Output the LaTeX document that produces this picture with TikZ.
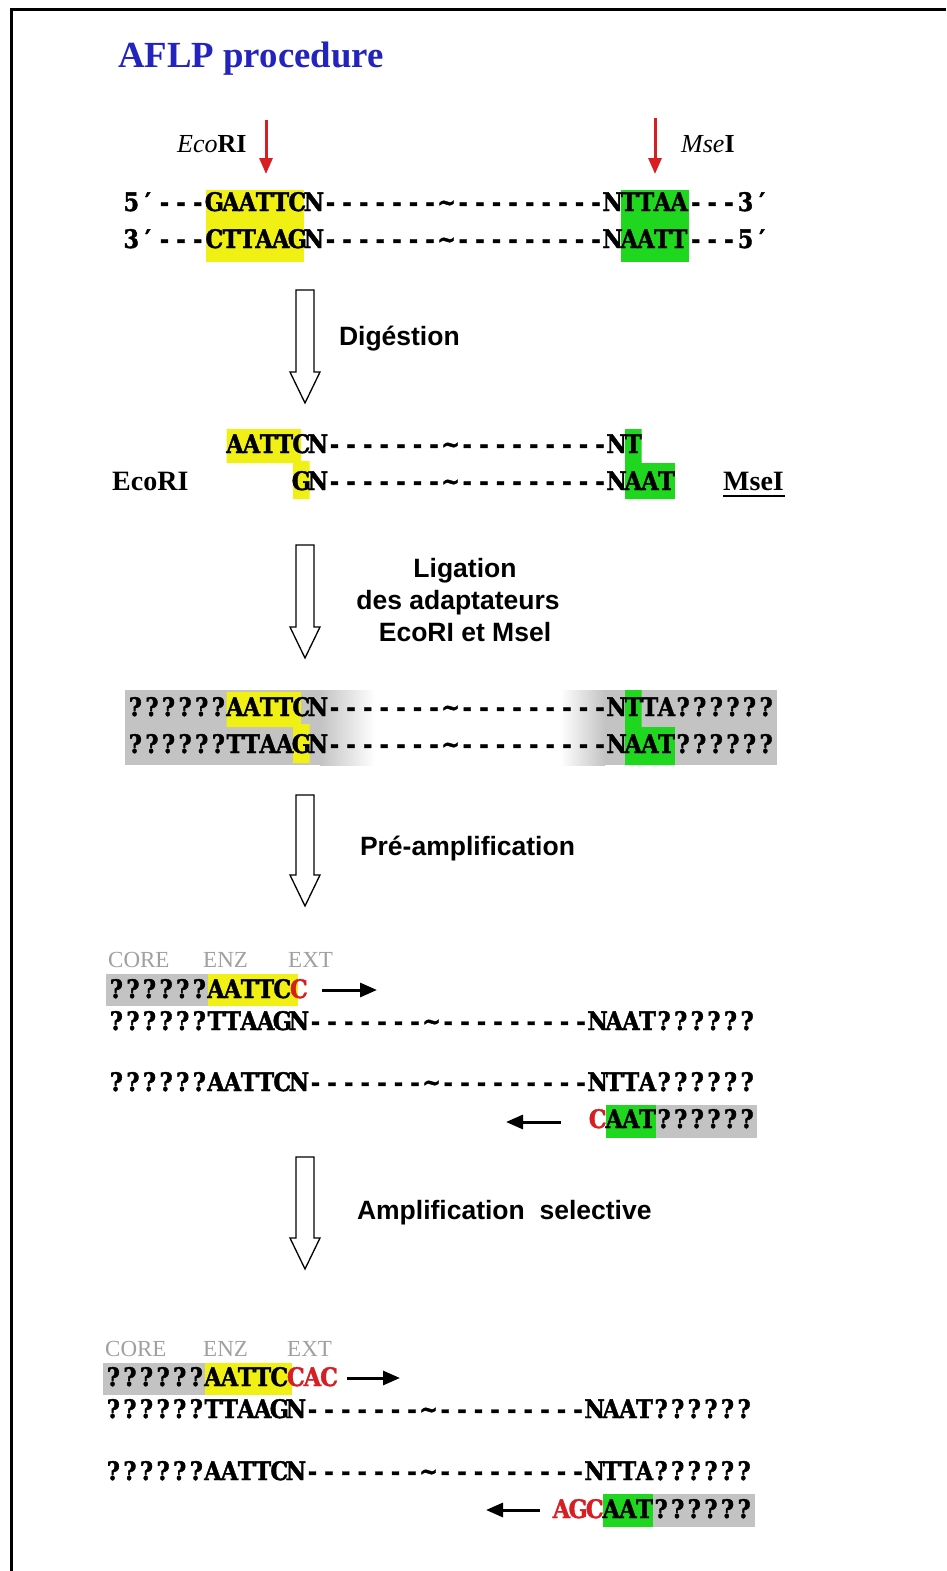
\documentclass[tikz,border=0pt]{standalone}
\usepackage{fontspec}
\setmainfont{Liberation Serif}
\setsansfont{Liberation Sans}
\newfontfamily\dnafont[BoldFeatures={FakeStretch=0.88,FakeBold=1.5}]{DejaVu Serif}
\usetikzlibrary{arrows.meta}

\definecolor{hlyellow}{RGB}{240,240,20}
\definecolor{hlgreen}{RGB}{30,215,30}
\definecolor{hlgray}{RGB}{195,195,195}
\definecolor{titleblue}{RGB}{35,35,190}
\definecolor{cutred}{RGB}{215,30,35}
\definecolor{labelgray}{RGB}{160,160,160}

% every base sits in a cell of the same width
\makeatletter
\newcommand\dna[1]{\dna@loop#1\@nil}
\def\dna@loop#1{\ifx#1\@nil\else\hbox to 16.6pt{\hss#1\hss}\expandafter\dna@loop\fi}
\makeatother
% the dashed stretch of the fragment between the two sites
\newcommand\gapdna{\dna{-------\textasciitilde---------}}
% hollow process arrow: centre x, top y, tip y
\newcommand\processarrow[3]{%
  \draw[hollow] ({#1-9},{#2}) -- ({#1+9},{#2}) -- ({#1+9},{#3-31}) -- ({#1+15},{#3-31})
    -- ({#1},{#3}) -- ({#1-15},{#3-31}) -- ({#1-9},{#3-31}) -- cycle;}

\tikzset{
  seq/.style={anchor=base west, inner sep=0pt, outer sep=0pt,
    font=\dnafont\bfseries\fontsize{25.5}{30}\selectfont},
  steplabel/.style={inner sep=0pt, outer sep=0pt,
    font=\sffamily\bfseries\fontsize{26.5}{30}\selectfont},
  partlabel/.style={anchor=base west, inner sep=0pt, text=labelgray,
    font=\fontsize{23}{26}\selectfont},
  enzlabel/.style={anchor=base west, inner sep=0pt, font=\fontsize{26}{30}\selectfont},
  hollow/.style={draw=black, line width=1.3pt, fill=white},
  cutarrow/.style={draw=cutred, line width=3pt, -{Triangle[length=16pt,width=13pt]}},
  primer/.style={draw=black, line width=3pt, -{Triangle[length=17pt,width=14pt]}},
}

\begin{document}
\begin{tikzpicture}[x=1pt, y=-1pt]
\useasboundingbox (0,0) rectangle (946,1571);
\fill[white] (0,0) rectangle (946,1571);

% frame
\draw[line width=3.5pt] (11.5,1571) -- (11.5,9.5) -- (946,9.5);

% title
\node[anchor=base west, inner sep=0pt, text=titleblue,
  font=\bfseries\fontsize{36.8}{40}\selectfont] (title) at (118,67) {AFLP procedure};

% ---- genomic DNA with the two restriction sites
\node[enzlabel] (ecoTopLbl) at (177,152) {\textit{Eco}\textbf{RI}};
\node[enzlabel] (mseTopLbl) at (681,152) {\textit{Mse}\textbf{I}};
\coordinate (ecoCutA) at (266,120);
\coordinate (ecoCutB) at (266,174);
\coordinate (mseCutA) at (655,118);
\coordinate (mseCutB) at (655,174);
\draw[cutarrow] (ecoCutA) -- (ecoCutB);
\draw[cutarrow] (mseCutA) -- (mseCutB);

\fill[hlyellow] (206,190) rectangle (304,262);
\fill[hlgreen] (621,190) rectangle (689,262);
\node[seq] (dnaTop) at (123,211) {\dna{5′---GAATTCN}\gapdna\dna{NTTAA---3′}};
\node[seq] (dnaBot) at (123,248) {\dna{3′---CTTAAGN}\gapdna\dna{NAATT---5′}};

% ---- digestion
\processarrow{305}{290}{403}
\node[steplabel, anchor=base west] (digest) at (339,345) {Digéstion};

\fill[hlyellow] (226.6,429) -- (301,429) -- (301,461) -- (309.6,461) -- (309.6,499)
  -- (293,499) -- (293,463) -- (226.6,463) -- cycle;
\fill[hlgreen] (625,429) -- (641.6,429) -- (641.6,463) -- (674.8,463) -- (674.8,499)
  -- (625,499) -- cycle;
\node[seq] (fragTop) at (226.6,453) {\dna{AATTCN}\gapdna\dna{NT}};
\node[seq] (fragBot) at (293,490) {\dna{GN}\gapdna\dna{NAAT}};
\node[anchor=base west, inner sep=0pt, font=\bfseries\fontsize{28}{30}\selectfont]
  (ecoEnd) at (112,490) {EcoRI};
\node[anchor=base west, inner sep=0pt, font=\bfseries\fontsize{28}{30}\selectfont]
  (mseEnd) at (723,490) {MseI};
\draw[line width=2pt] (mseEnd.south west) ++(0,6) -- ++(62,0);

% ---- adapter ligation
\processarrow{305}{545}{658}
\node[steplabel, anchor=base] (ligA) at (465,577) {Ligation};
\node[steplabel, anchor=base] (ligB) at (458,609) {des adaptateurs};
\node[steplabel, anchor=base] (ligC) at (465,641) {EcoRI et Msel};

\fill[hlgray] (125,690) rectangle (320,765);
\shade[left color=hlgray, right color=white] (320,690) rectangle (375,765);
\shade[left color=white, right color=hlgray] (560,690) rectangle (605,765);
\fill[hlgray] (605,690) rectangle (777,765);
\fill[hlyellow] (226.6,692) -- (301,692) -- (301,724) -- (309.6,724) -- (309.6,763)
  -- (293,763) -- (293,727) -- (226.6,727) -- cycle;
\fill[hlgreen] (625,690) -- (641.6,690) -- (641.6,727) -- (674.8,727) -- (674.8,765)
  -- (625,765) -- cycle;
\node[seq] (ligTop) at (127,716) {\dna{??????AATTCN}\gapdna\dna{NTTA??????}};
\node[seq] (ligBot) at (127,753) {\dna{??????TTAAGN}\gapdna\dna{NAAT??????}};

% ---- pre-amplification
\processarrow{305}{795}{906}
\node[steplabel, anchor=base west] (preamp) at (360,855) {Pré-amplification};

\node[partlabel] (coreA) at (108,967) {CORE};
\node[partlabel] (enzA) at (203,967) {ENZ};
\node[partlabel] (extA) at (288,967) {EXT};

\fill[hlgray] (106,974) rectangle (207.6,1006);
\fill[hlyellow] (207.6,974) rectangle (298,1006);
\node[seq] (preEco) at (108,998) {\dna{??????AATTC}\color{cutred}\dna{C}};
\coordinate (preEcoA) at (322,990);
\coordinate (preEcoB) at (377,990);
\draw[primer] (preEcoA) -- (preEcoB);
\node[seq] (preBotA) at (108,1030) {\dna{??????TTAAGN}\gapdna\dna{NAAT??????}};

\node[seq] (preTopB) at (108,1091) {\dna{??????AATTCN}\gapdna\dna{NTTA??????}};
\fill[hlgray] (655.8,1105) rectangle (757,1138);
\fill[hlgreen] (606,1105) rectangle (655.8,1138);
\node[seq] (preMse) at (589.4,1128) {\color{cutred}\dna{C}\color{black}\dna{AAT??????}};
\coordinate (preMseA) at (561,1122);
\coordinate (preMseB) at (506,1122);
\draw[primer] (preMseA) -- (preMseB);

% ---- selective amplification
\processarrow{305}{1157}{1269}
\node[steplabel, anchor=base west] (selamp) at (357,1219) {Amplification\ \ selective};

\node[partlabel] (coreB) at (105,1356) {CORE};
\node[partlabel] (enzB) at (203,1356) {ENZ};
\node[partlabel] (extB) at (287,1356) {EXT};

\fill[hlgray] (103,1363) rectangle (204.6,1395);
\fill[hlyellow] (204.6,1363) rectangle (292,1395);
\node[seq] (selEco) at (105,1386) {\dna{??????AATTC}\color{cutred}\dna{CAC}};
\coordinate (selEcoA) at (347,1378);
\coordinate (selEcoB) at (400,1378);
\draw[primer] (selEcoA) -- (selEcoB);
\node[seq] (selBotA) at (105,1418) {\dna{??????TTAAGN}\gapdna\dna{NAAT??????}};

\node[seq] (selTopB) at (105,1480) {\dna{??????AATTCN}\gapdna\dna{NTTA??????}};
\fill[hlgray] (652.8,1494) rectangle (755,1527);
\fill[hlgreen] (603,1494) rectangle (652.8,1527);
\node[seq] (selMse) at (553.2,1518) {\color{cutred}\dna{AGC}\color{black}\dna{AAT??????}};
\coordinate (selMseA) at (540,1510);
\coordinate (selMseB) at (486,1510);
\draw[primer] (selMseA) -- (selMseB);
\end{tikzpicture}
\end{document}
